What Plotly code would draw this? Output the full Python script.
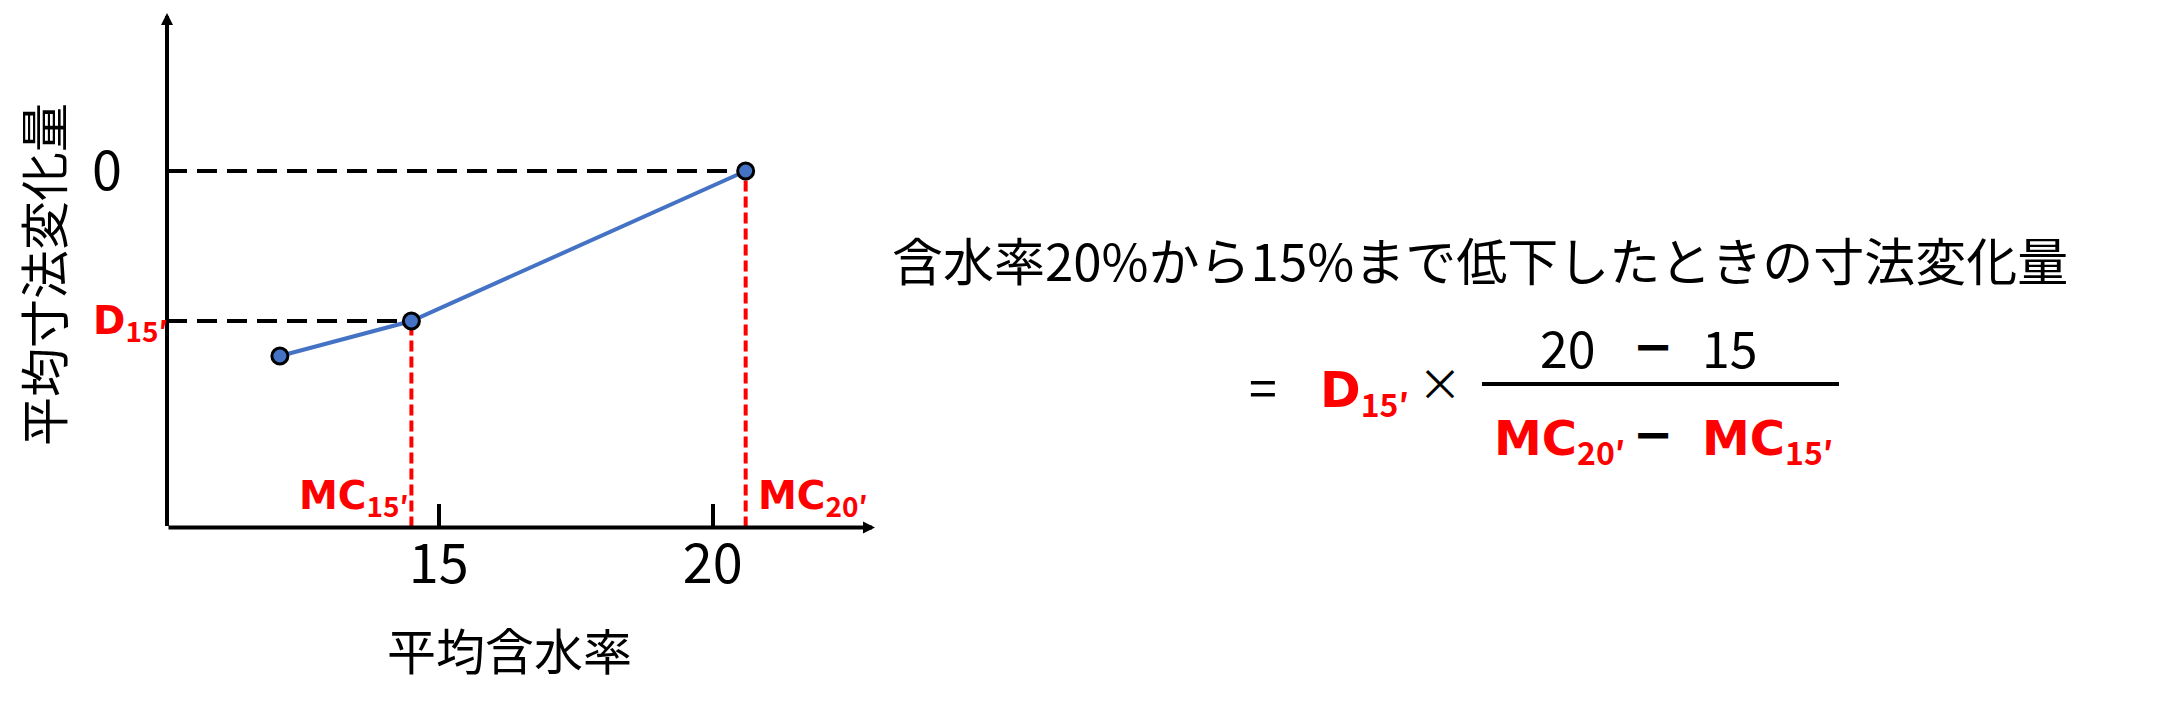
import plotly.graph_objects as go

# the page body keeps its default 8px margin, so the figure is drawn 8px in
SCREEN_W, SCREEN_H = 2176, 718
OFF = 8
W, H = SCREEN_W - 2 * OFF, SCREEN_H - 2 * OFF

# 平均含水率 (%) と 平均寸法変化量 (任意単位)
mc = [12.1, 14.5, 20.6]
change = [-1.85, -1.5, 0.0]

x_ticks = [15, 20]
x_tick_text = ["15", "20"]
y_ticks = [0]
y_tick_text = ["0"]

x_range = [10.04, 22.96]
y_range = [-3.565, 1.58]

BLUE = "#4472C4"
RED = "#FF0000"
JP = "Noto Sans CJK JP, Noto Sans, sans-serif"
BOLD = "DejaVu Sans, Verdana, sans-serif"
SUB = "font-family:Noto Sans CJK JP;font-weight:bold;font-size:{}px"


def px(x, y):
    """screen pixel -> paper coords"""
    return (x - OFF) / W, 1 - (y - OFF) / H


def red(main, sub, sub_size):
    return f"<b>{main}<sub><span style='{SUB.format(sub_size)}'>{sub}′</span></sub></b>"


fig = go.Figure()

fig.add_trace(go.Scatter(
    x=mc, y=change,
    mode="lines+markers",
    line=dict(color=BLUE, width=4),
    marker=dict(size=16, color=BLUE, line=dict(color="black", width=3)),
    showlegend=False,
    hoverinfo="skip",
))

# guide lines
x0, y0 = x_range[0], y_range[0]
for i in (1, 2):
    fig.add_shape(type="line", xref="x", yref="y",
                  x0=x0, x1=mc[i], y0=change[i], y1=change[i],
                  line=dict(color="black", width=4, dash="20px,10px"), layer="below")
    fig.add_shape(type="line", xref="x", yref="y",
                  x0=mc[i], x1=mc[i], y0=y0, y1=change[i],
                  line=dict(color=RED, width=4, dash="11px,5px"), layer="below")

# axes with arrowheads
for (tx, ty) in [(x_range[1], y0), (x0, y_range[1])]:
    fig.add_annotation(x=tx, y=ty, ax=x0, ay=y0, xref="x", yref="y",
                       axref="x", ayref="y", text="", showarrow=True,
                       arrowhead=2, arrowsize=0.6, arrowwidth=4, arrowcolor="black")

# red labels on the chart
fig.add_annotation(x=x0, y=change[1], xref="x", yref="y", xanchor="right", yanchor="middle",
                   xshift=3, yshift=-3, showarrow=False,
                   text=red("D", "15", 28), font=dict(family=BOLD, size=39, color=RED))
fig.add_annotation(x=mc[1], y=y0, xref="x", yref="y", xanchor="right", yanchor="bottom",
                   xshift=0, yshift=1, showarrow=False,
                   text=red("MC", "15", 28), font=dict(family=BOLD, size=39, color=RED))
fig.add_annotation(x=mc[2], y=y0, xref="x", yref="y", xanchor="left", yanchor="bottom",
                   xshift=10, yshift=1, showarrow=False,
                   text=red("MC", "20", 28), font=dict(family=BOLD, size=39, color=RED))


def txt(x, y, text, size=50, color="black", family=JP, xanchor="center", angle=0):
    a, b = px(x, y)
    fig.add_annotation(x=a, y=b, xref="paper", yref="paper", showarrow=False,
                       xanchor=xanchor, yanchor="middle", text=text, textangle=angle,
                       font=dict(family=family, size=size, color=color))


# axis titles
txt(41, 275, "平均寸法変化量", size=49, angle=-90)
txt(509, 648, "平均含水率", size=49)

# right side: explanation + formula
txt(1480, 259, "含水率20%から15%まで低下したときの寸法変化量", size=51)
txt(1263, 385, "=")
txt(1318, 394, red("D", "15", 32), size=49, color=RED, family=BOLD, xanchor="left")
txt(1440, 382, "×", size=44)
txt(1568, 346, "20")
txt(1653, 346, "<b>−</b>", size=48, family=BOLD)
txt(1730, 346, "15")
txt(1492, 442, red("MC", "20", 32), size=48, color=RED, family=BOLD, xanchor="left")
txt(1653, 434, "<b>−</b>", size=48, family=BOLD)
txt(1700, 442, red("MC", "15", 32), size=48, color=RED, family=BOLD, xanchor="left")

bx0, by = px(1482, 384)
bx1, _ = px(1839, 384)
fig.add_shape(type="line", xref="paper", yref="paper", x0=bx0, x1=bx1, y0=by, y1=by,
              line=dict(color="black", width=4))

xd0, _ = px(167, 0)
xd1, _ = px(875, 0)
_, yd0 = px(0, 527.5)
_, yd1 = px(0, 13)
fig.update_layout(
    width=W, height=H,
    margin=dict(l=0, r=0, t=0, b=0),
    paper_bgcolor="white", plot_bgcolor="white",
    xaxis=dict(domain=[xd0, xd1], range=x_range, automargin=False,
               tickvals=x_ticks, ticktext=x_tick_text,
               ticks="inside", ticklen=24, tickwidth=4, tickcolor="black",
               ticklabelstandoff=0,
               tickfont=dict(family=JP, size=54, color="black"),
               showgrid=False, zeroline=False, showline=False),
    yaxis=dict(domain=[yd0, yd1], range=y_range, automargin=False,
               tickvals=y_ticks, ticktext=y_tick_text, ticks="",
               ticklabelstandoff=44,
               tickfont=dict(family=JP, size=54, color="black"),
               showgrid=False, zeroline=False, showline=False),
)

fig.write_html("out.html")
